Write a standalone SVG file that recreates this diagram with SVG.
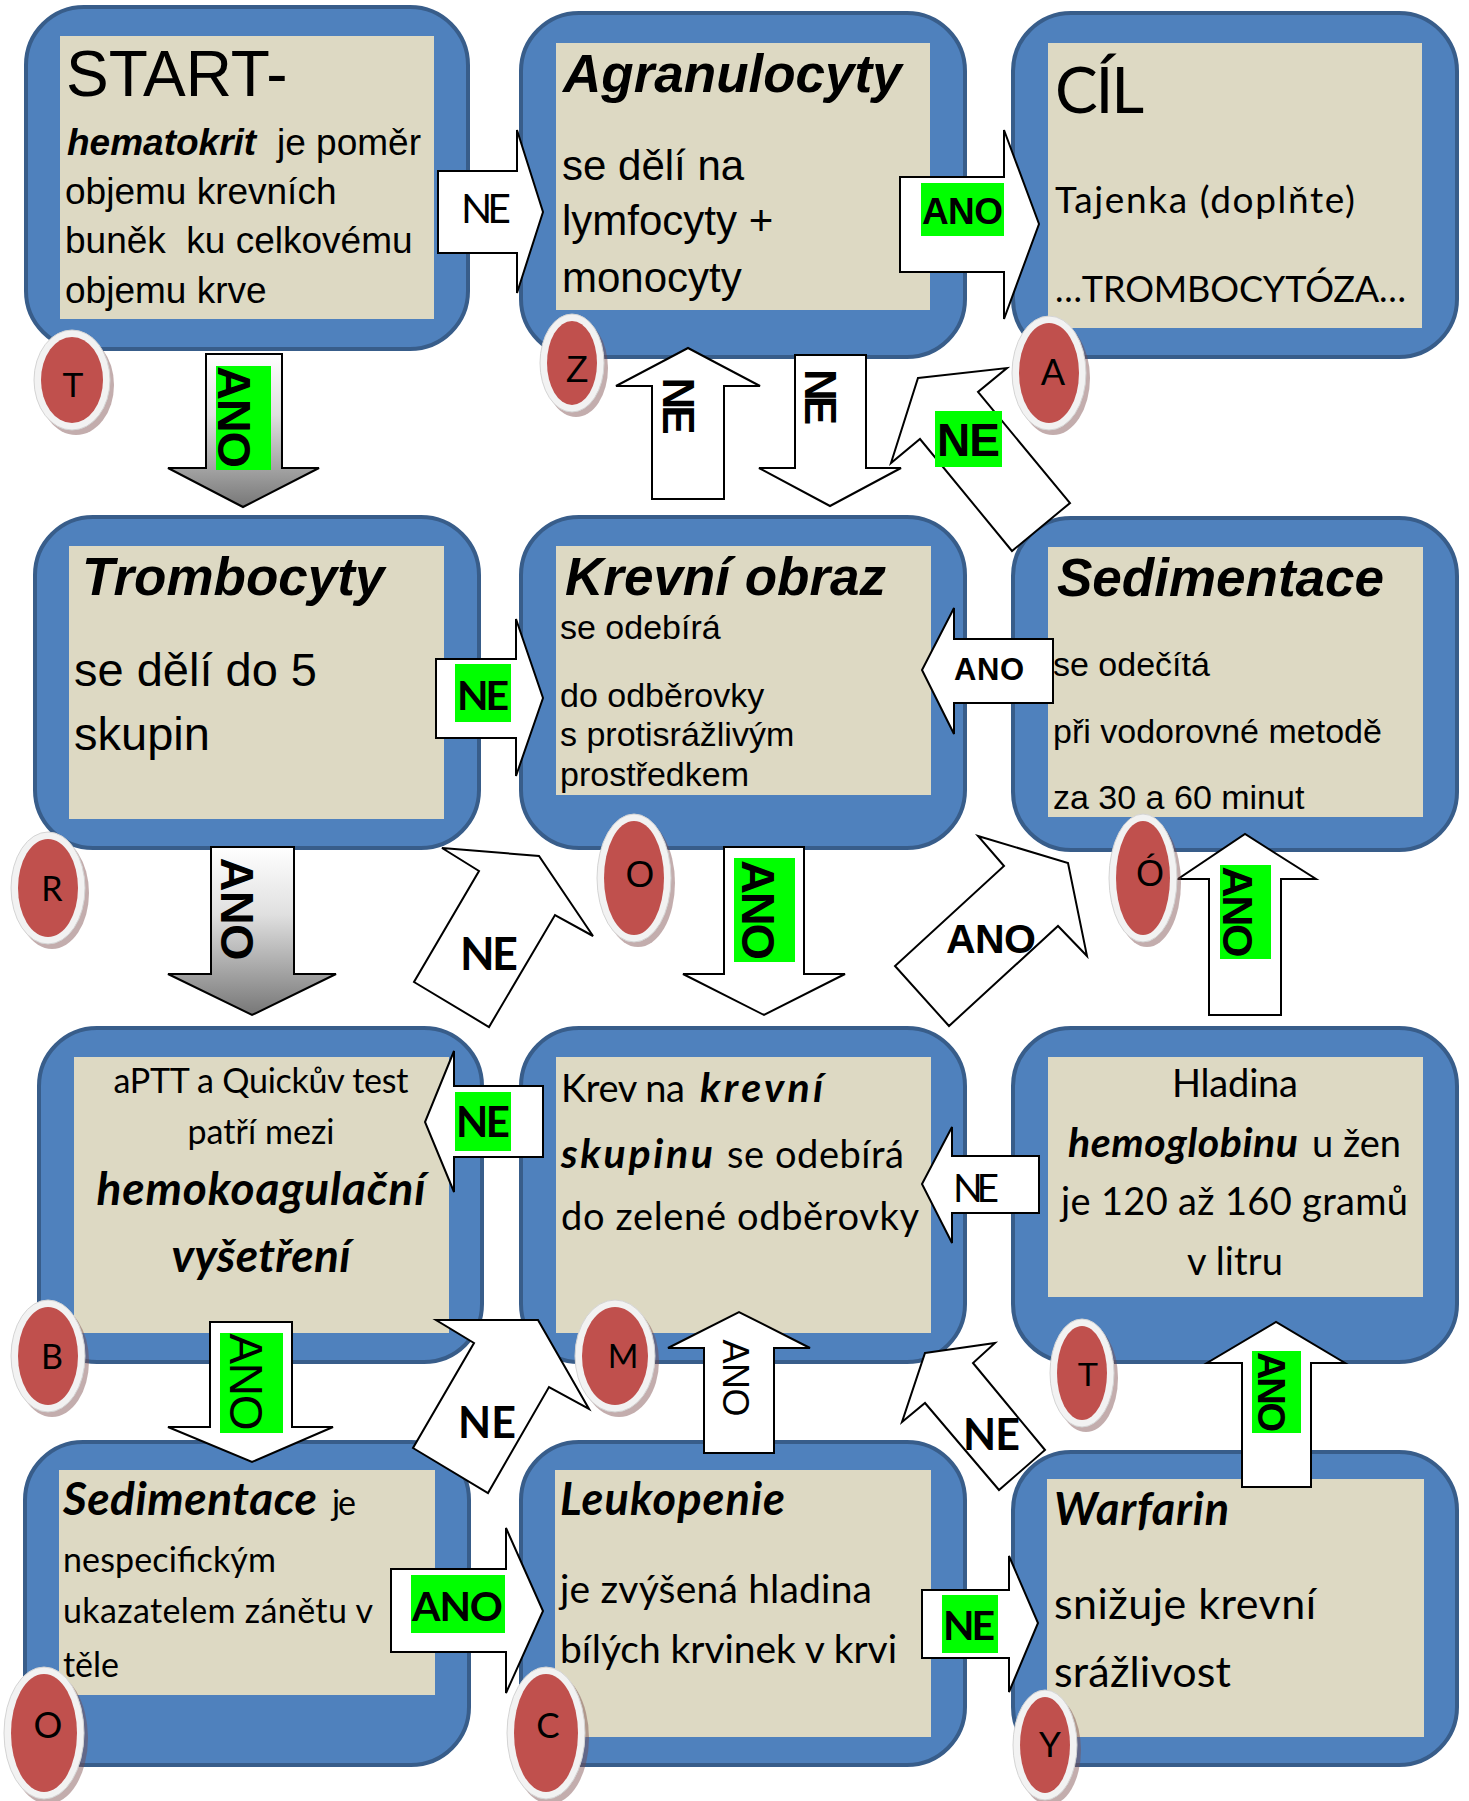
<svg xmlns="http://www.w3.org/2000/svg" width="1469" height="1801" viewBox="0 0 1469 1801">
<defs>
<linearGradient id="gray" x1="0" y1="0" x2="0" y2="1">
<stop offset="0" stop-color="#ffffff"/><stop offset="0.4" stop-color="#e0e0e0"/><stop offset="1" stop-color="#777777"/>
</linearGradient>
<style>
.box{fill:#4f81bd;stroke:#385d8a;stroke-width:4}
.in{fill:#ddd9c3}
.arr{fill:#ffffff;stroke:#000000;stroke-width:2;stroke-linejoin:miter}
.garr{fill:url(#gray);stroke:#000000;stroke-width:2}
.lab{fill:#00ff00}
.a{font-family:"Liberation Sans",Arial,sans-serif;fill:#000}
.c{font-family:Lato,"Liberation Sans",sans-serif;fill:#000}
.b{font-weight:bold}
.i{font-style:italic}
.ring{fill:#f2f2f2;stroke:#d4d4d4;stroke-width:1}
.dot{fill:#c0504d}
.sh{fill:#7a4a4a;opacity:0.45}
</style>
</defs>
<rect width="1469" height="1801" fill="#ffffff"/>

<g id="n-start">
<rect class="box" x="26" y="7" width="442" height="342" rx="58"/>
<rect class="in" x="60" y="36" width="374" height="283"/>
<text class="a" x="66" y="96" font-size="64">START-</text>
<text class="a" font-size="37" x="67" y="155"><tspan class="b i">hematokrit</tspan><tspan x="277">je poměr</tspan></text>
<text class="a" font-size="37" x="65" y="204">objemu krevních</text>
<text class="a" font-size="37" x="65" y="253" xml:space="preserve">buněk  ku celkovému</text>
<text class="a" font-size="37" x="65" y="303">objemu krve</text>
</g>

<g id="n-agranulocyty">
<rect class="box" x="521" y="13" width="444" height="344" rx="58"/>
<rect class="in" x="556" y="43" width="374" height="267"/>
<text class="a b i" x="563" y="92" font-size="53">Agranulocyty</text>
<text class="a" x="562" y="180" font-size="42">se dělí na</text>
<text class="a" x="562" y="235" font-size="42">lymfocyty +</text>
<text class="a" x="562" y="292" font-size="42">monocyty</text>
</g>

<g id="n-cil">
<rect class="box" x="1013" y="13" width="444" height="344" rx="58"/>
<rect class="in" x="1048" y="43" width="374" height="285"/>
<text class="c" x="1055" y="113" font-size="64" textLength="89">CÍL</text>
<text class="c" x="1055" y="213" font-size="37" textLength="300">Tajenka (doplňte)</text>
<text class="c" x="1055" y="302" font-size="36" textLength="351">…TROMBOCYTÓZA…</text>
</g>

<g id="n-trombocyty">
<rect class="box" x="35" y="517" width="444" height="331" rx="58"/>
<rect class="in" x="69" y="546" width="375" height="273"/>
<text class="a b i" x="82" y="595" font-size="53">Trombocyty</text>
<text class="a" x="74" y="686" font-size="47">se dělí do 5</text>
<text class="a" x="74" y="750" font-size="47">skupin</text>
</g>

<g id="n-krevni-obraz">
<rect class="box" x="521" y="517" width="444" height="331" rx="58"/>
<rect class="in" x="556" y="546" width="375" height="249"/>
<text class="a b i" x="565" y="595" font-size="53">Krevní obraz</text>
<text class="a" x="560" y="639" font-size="34">se odebírá</text>
<text class="a" x="560" y="707" font-size="34">do odběrovky</text>
<text class="a" x="560" y="746" font-size="34">s protisrážlivým</text>
<text class="a" x="560" y="786" font-size="34">prostředkem</text>
</g>

<g id="n-sedimentace">
<rect class="box" x="1013" y="518" width="444" height="332" rx="58"/>
<rect class="in" x="1048" y="547" width="375" height="270"/>
<text class="a b i" x="1057" y="596" font-size="53">Sedimentace</text>
<text class="a" x="1053" y="676" font-size="34">se odečítá</text>
<text class="a" x="1053" y="743" font-size="34">při vodorovné metodě</text>
<text class="a" x="1053" y="809" font-size="34">za 30 a 60 minut</text>
</g>

<g id="n-aptt">
<rect class="box" x="39" y="1028" width="443" height="334" rx="58"/>
<rect class="in" x="74" y="1057" width="375" height="276"/>
<text class="c" x="261" y="1093" font-size="34" text-anchor="middle" textLength="295">aPTT a Quickův test</text>
<text class="c" x="261" y="1144" font-size="34" text-anchor="middle" textLength="147">patří mezi</text>
<text class="c b i" x="261" y="1205" font-size="46" text-anchor="middle" textLength="329">hemokoagulační</text>
<text class="c b i" x="261" y="1272" font-size="46" text-anchor="middle" textLength="179">vyšetření</text>
</g>

<g id="n-krev-skupina">
<rect class="box" x="521" y="1028" width="444" height="334" rx="58"/>
<rect class="in" x="556" y="1057" width="375" height="276"/>
<text class="c" x="561" y="1102" font-size="38" textLength="124">Krev na</text>
<text class="c b i" x="700" y="1102" font-size="41" textLength="123">krevní</text>
<text class="c b i" x="561" y="1168" font-size="41" textLength="152">skupinu</text>
<text class="c" x="727" y="1168" font-size="38" textLength="177">se odebírá</text>
<text class="c" x="561" y="1230" font-size="38" textLength="358">do zelené odběrovky</text>
</g>

<g id="n-hladina">
<rect class="box" x="1013" y="1028" width="444" height="334" rx="58"/>
<rect class="in" x="1048" y="1057" width="375" height="240"/>
<text class="c" x="1172" y="1097" font-size="38" textLength="126">Hladina</text>
<text class="c b i" x="1068" y="1157" font-size="41" textLength="230">hemoglobinu</text>
<text class="c" x="1312" y="1157" font-size="38" textLength="89">u žen</text>
<text class="c" x="1061" y="1215" font-size="38" textLength="347">je 120 až 160 gramů</text>
<text class="c" x="1187" y="1275" font-size="38" textLength="96">v litru</text>
</g>

<g id="n-sedimentace-je">
<rect class="box" x="25" y="1442" width="444" height="323" rx="58"/>
<rect class="in" x="59" y="1470" width="376" height="225"/>
<text class="c b i" x="63" y="1515" font-size="46" textLength="254">Sedimentace</text>
<text class="c" x="332" y="1515" font-size="34" textLength="24">je</text>
<text class="c" x="63" y="1572" font-size="34" textLength="213">nespecifickým</text>
<text class="c" x="63" y="1623" font-size="34" textLength="310">ukazatelem zánětu v</text>
<text class="c" x="63" y="1677" font-size="34" textLength="56">těle</text>
</g>

<g id="n-leukopenie">
<rect class="box" x="521" y="1442" width="444" height="323" rx="58"/>
<rect class="in" x="555" y="1470" width="376" height="267"/>
<text class="c b i" x="560" y="1515" font-size="45" textLength="225">Leukopenie</text>
<text class="c" x="560" y="1603" font-size="39" textLength="312">je zvýšená hladina</text>
<text class="c" x="560" y="1663" font-size="39" textLength="337">bílých krvinek v krvi</text>
</g>

<g id="n-warfarin">
<rect class="box" x="1013" y="1452" width="444" height="313" rx="58"/>
<rect class="in" x="1047" y="1479" width="377" height="258"/>
<text class="c b i" x="1054" y="1525" font-size="45" textLength="175">Warfarin</text>
<text class="c" x="1054" y="1619" font-size="43" textLength="262">snižuje krevní</text>
<text class="c" x="1054" y="1687" font-size="43" textLength="177">srážlivost</text>
</g>

<g id="connectors">
<!-- row 1 -->
<polygon class="arr" points="438,171 517,171 517,130 543,212 517,293 517,253 438,253"/>
<text class="c" x="461" y="223" font-size="41" textLength="50">NE</text>

<polygon class="arr" points="900,177 1004,177 1004,130 1039,224 1004,319 1004,272 900,272"/>
<rect class="lab" x="921" y="183" width="83" height="53"/>
<text class="a b" x="922" y="224" font-size="37" textLength="81">ANO</text>

<polygon class="garr" points="206,354 282,354 282,468 319,468 243,507 168,468 206,468"/>
<rect class="lab" x="216" y="366" width="55" height="104"/>
<text class="a b" font-size="47" text-anchor="middle" textLength="102" transform="translate(218,417) rotate(90)">ANO</text>

<polygon class="arr" points="652,499 652,386 616,386 688,348 760,386 724,386 724,499"/>
<text class="a b" font-size="44" text-anchor="middle" textLength="57" transform="translate(663,406) rotate(90)">NE</text>

<polygon class="arr" points="795,355 866,355 866,468 901,468 830,506 759,468 795,468"/>
<text class="a b" font-size="44" text-anchor="middle" textLength="56" transform="translate(805,397) rotate(90)">NE</text>

<polygon class="arr" points="918,378 1007,368 978,392 1070,503 1012,551 920,439 891,463"/>
<rect class="lab" x="935" y="411" width="67" height="56"/>
<text class="a b" x="937" y="456" font-size="46" textLength="63">NE</text>

<!-- row 2 -->
<polygon class="arr" points="436,659 516,659 516,619 543,698 516,776 516,738 436,738"/>
<rect class="lab" x="455" y="664" width="56" height="58"/>
<text class="c b" x="457" y="710" font-size="41" textLength="52">NE</text>

<polygon class="arr" points="1053,639 954,639 954,608 922,670 954,734 954,703 1053,703"/>
<text class="a b" x="954" y="680" font-size="31" textLength="70">ANO</text>

<polygon class="garr" points="211,847 294,847 294,974 336,974 252,1015 168,974 211,974"/>
<text class="a b" font-size="47" text-anchor="middle" textLength="103" transform="translate(221,909) rotate(90)">ANO</text>

<polygon class="arr" points="442,848 539,856 593,936 555,915 489,1027 414,982 479,871"/>
<text class="c b" x="460" y="970" font-size="45" textLength="58">NE</text>

<polygon class="arr" points="724,847 804,847 804,974 845,974 764,1015 683,974 724,974"/>
<rect class="lab" x="734" y="858" width="61" height="104"/>
<text class="a b" font-size="47" text-anchor="middle" textLength="100" transform="translate(742,910) rotate(90)">ANO</text>

<polygon class="arr" points="978,836 1068,863 1087,956 1058,926 949,1026 895,966 1004,866"/>
<text class="a b" x="946" y="953" font-size="41" textLength="90">ANO</text>

<polygon class="arr" points="1209,1015 1209,879 1178,879 1245,834 1316,879 1281,879 1281,1015"/>
<rect class="lab" x="1220" y="865" width="51" height="94"/>
<text class="a b" font-size="43" text-anchor="middle" textLength="91" transform="translate(1223,912) rotate(90)">ANO</text>

<!-- row 3 -->
<polygon class="arr" points="543,1086 454,1086 454,1051 425,1122 454,1192 454,1157 543,1157"/>
<rect class="lab" x="455" y="1092" width="56" height="59"/>
<text class="c b" x="456" y="1137" font-size="42" textLength="54">NE</text>

<polygon class="arr" points="1039,1156 952,1156 952,1127 922,1184 952,1243 952,1213 1039,1213"/>
<text class="c" x="953" y="1202" font-size="39" textLength="46">NE</text>

<polygon class="arr" points="210,1322 292,1322 292,1427 333,1427 252,1462 168,1427 210,1427"/>
<rect class="lab" x="220" y="1333" width="63" height="100"/>
<text class="a" font-size="46" text-anchor="middle" textLength="97" transform="translate(230,1382) rotate(90)">ANO</text>

<polygon class="arr" points="436,1320 538,1320 589,1409 549,1387 488,1493 413,1448 474,1343"/>
<text class="c b" x="458" y="1438" font-size="43" textLength="58">NE</text>

<polygon class="arr" points="704,1453 704,1348 668,1348 739,1312 810,1348 774,1348 774,1453"/>
<text class="a" font-size="36" text-anchor="middle" textLength="77" transform="translate(723,1378) rotate(90)">ANO</text>

<polygon class="arr" points="925,1353 995,1343 973,1363 1045,1450 999,1490 925,1403 902,1422"/>
<text class="c b" x="963" y="1450" font-size="43" textLength="57">NE</text>

<polygon class="arr" points="1242,1487 1242,1363 1207,1363 1276,1322 1345,1363 1311,1363 1311,1487"/>
<rect class="lab" x="1252" y="1351" width="49" height="82"/>
<text class="a b" font-size="38" text-anchor="middle" textLength="80" transform="translate(1258,1392) rotate(90)">ANO</text>

<!-- row 4 -->
<polygon class="arr" points="391,1569 506,1569 506,1528 543,1611 506,1693 506,1652 391,1652"/>
<rect class="lab" x="411" y="1575" width="94" height="58"/>
<text class="c b" x="412" y="1621" font-size="41" textLength="91">ANO</text>

<polygon class="arr" points="922,1590 1009,1590 1009,1556 1038,1623 1009,1692 1009,1658 922,1658"/>
<rect class="lab" x="942" y="1595" width="56" height="58"/>
<text class="c b" x="943" y="1640" font-size="41" textLength="52">NE</text>
</g>

<g id="m-t1"><ellipse class="sh" cx="76" cy="385" rx="38" ry="50"/><ellipse class="ring" cx="72" cy="380" rx="38" ry="50"/><ellipse class="dot" cx="72" cy="380" rx="31" ry="43"/><text class="a" x="73" y="397" font-size="35" text-anchor="middle">T</text></g>
<g id="m-z"><ellipse class="sh" cx="576" cy="368" rx="32" ry="49"/><ellipse class="ring" cx="572" cy="363" rx="32" ry="49"/><ellipse class="dot" cx="572" cy="363" rx="25" ry="42"/><text class="a" x="577" y="382" font-size="37" text-anchor="middle">Z</text></g>
<g id="m-a"><ellipse class="sh" cx="1053" cy="378" rx="37" ry="57"/><ellipse class="ring" cx="1049" cy="373" rx="37" ry="57"/><ellipse class="dot" cx="1049" cy="373" rx="30" ry="50"/><text class="c" x="1053" y="385" font-size="36" text-anchor="middle">A</text></g>
<g id="m-r"><ellipse class="sh" cx="52" cy="893" rx="37" ry="56"/><ellipse class="ring" cx="48" cy="888" rx="37" ry="56"/><ellipse class="dot" cx="48" cy="888" rx="30" ry="49"/><text class="c" x="52" y="901" font-size="34" text-anchor="middle">R</text></g>
<g id="m-o1"><ellipse class="sh" cx="638" cy="883" rx="37" ry="64"/><ellipse class="ring" cx="634" cy="878" rx="37" ry="64"/><ellipse class="dot" cx="634" cy="878" rx="30" ry="57"/><text class="a" x="640" y="887" font-size="37" text-anchor="middle">O</text></g>
<g id="m-o2"><ellipse class="sh" cx="1147" cy="883" rx="34" ry="64"/><ellipse class="ring" cx="1143" cy="878" rx="34" ry="64"/><ellipse class="dot" cx="1143" cy="878" rx="27" ry="57"/><text class="a" x="1150" y="886" font-size="36" text-anchor="middle">Ó</text></g>
<g id="m-b"><ellipse class="sh" cx="52" cy="1361" rx="37" ry="56"/><ellipse class="ring" cx="48" cy="1356" rx="37" ry="56"/><ellipse class="dot" cx="48" cy="1356" rx="30" ry="49"/><text class="c" x="52" y="1369" font-size="34" text-anchor="middle">B</text></g>
<g id="m-m"><ellipse class="sh" cx="619" cy="1361" rx="40" ry="56"/><ellipse class="ring" cx="615" cy="1356" rx="40" ry="56"/><ellipse class="dot" cx="615" cy="1356" rx="33" ry="49"/><text class="c" x="623" y="1368" font-size="33" text-anchor="middle">M</text></g>
<g id="m-t2"><ellipse class="sh" cx="1086" cy="1378" rx="32" ry="54"/><ellipse class="ring" cx="1082" cy="1373" rx="32" ry="54"/><ellipse class="dot" cx="1082" cy="1373" rx="25" ry="47"/><text class="a" x="1088" y="1386" font-size="34" text-anchor="middle">T</text></g>
<g id="m-o3"><ellipse class="sh" cx="48" cy="1738" rx="40" ry="66"/><ellipse class="ring" cx="44" cy="1733" rx="40" ry="66"/><ellipse class="dot" cx="44" cy="1733" rx="33" ry="59"/><text class="c" x="48" y="1738" font-size="36" text-anchor="middle">O</text></g>
<g id="m-c"><ellipse class="sh" cx="550" cy="1738" rx="39" ry="66"/><ellipse class="ring" cx="546" cy="1733" rx="39" ry="66"/><ellipse class="dot" cx="546" cy="1733" rx="32" ry="59"/><text class="c" x="548" y="1738" font-size="35" text-anchor="middle">C</text></g>
<g id="m-y"><ellipse class="sh" cx="1049" cy="1750" rx="32" ry="55"/><ellipse class="ring" cx="1045" cy="1745" rx="32" ry="55"/><ellipse class="dot" cx="1045" cy="1745" rx="25" ry="48"/><text class="c" x="1050" y="1757" font-size="35" text-anchor="middle">Y</text></g>
</svg>
